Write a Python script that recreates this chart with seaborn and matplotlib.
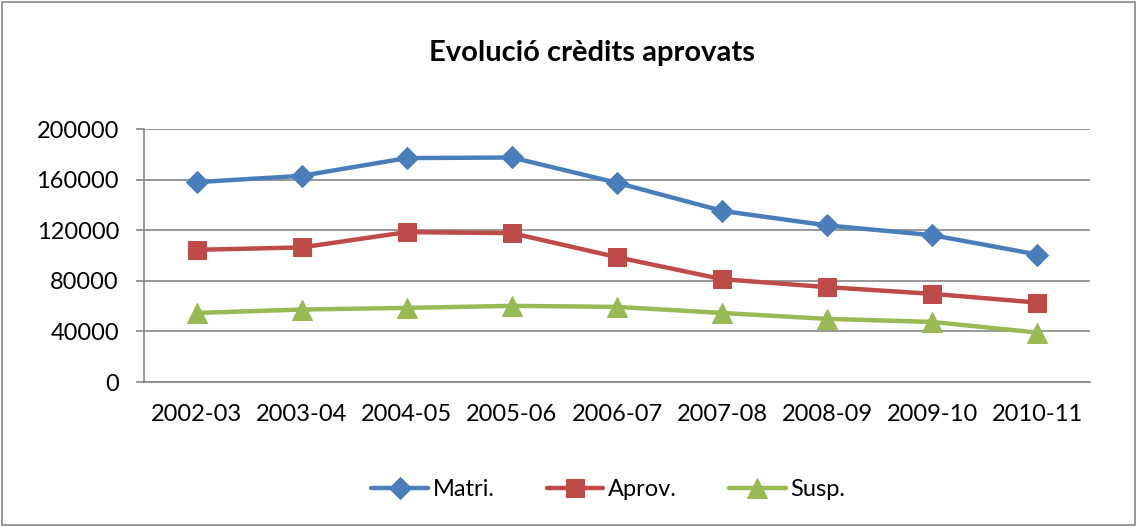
import pandas as pd
import matplotlib
matplotlib.use('Agg')
import matplotlib.pyplot as plt
import seaborn as sns
from matplotlib.patches import Rectangle
from matplotlib.ticker import FixedLocator

# Chart data
years = ['2002-03', '2003-04', '2004-05', '2005-06', '2006-07',
         '2007-08', '2008-09', '2009-10', '2010-11']
matri = [158000, 163000, 177000, 177500, 157500, 135300, 123800, 116100, 100800]
aprov = [104500, 106400, 118500, 117700, 98700, 81300, 75000, 69700, 62800]
susp = [54600, 57300, 58600, 60200, 59400, 54600, 49900, 47500, 39100]
series_names = ['Matri.', 'Aprov.', 'Susp.']

data = pd.DataFrame({
    'Curs': years * 3,
    'Valor': matri + aprov + susp,
    'Serie': [s for s in series_names for _ in years],
})

sns.set_style('white')
plt.rcParams['font.family'] = ['Lato', 'DejaVu Sans']
plt.rcParams['text.color'] = 'black'
plt.rcParams['xtick.labelcolor'] = 'black'
plt.rcParams['ytick.labelcolor'] = 'black'

colors = {'Matri.': '#4A7EBB', 'Aprov.': '#BE4B48', 'Susp.': '#98B954'}
markers = {'Matri.': 'D', 'Aprov.': 's', 'Susp.': '^'}
msizes = {'Matri.': 11, 'Aprov.': 13, 'Susp.': 14}

fig = plt.figure(figsize=(11.38, 5.27), dpi=100)
ax = fig.add_axes([0.1265, 0.2751, 0.8313, 0.4801])

for name in series_names:
    sub = data[data['Serie'] == name]
    sns.lineplot(data=sub, x='Curs', y='Valor', ax=ax, color=colors[name],
                 marker=markers[name], markersize=msizes[name],
                 markeredgecolor=colors[name], linewidth=3.2, label=name,
                 sort=False)

ax.set_xlim(-0.5, len(years) - 0.5)
ax.set_ylim(0, 200000)
ax.set_yticks(range(0, 200001, 40000))
ax.set_xticks(range(len(years)))
ax.set_xticklabels(years)
ax.xaxis.set_minor_locator(FixedLocator([i - 0.5 for i in range(len(years) + 1)]))
ax.tick_params(axis='x', which='major', length=0, pad=16, labelsize=17,
               labelcolor='black')
ax.tick_params(axis='x', which='minor', length=6, color='#868686', width=1.2)
ax.tick_params(axis='y', which='major', length=6, color='#868686', width=1.2,
               labelsize=17, pad=12, direction='out', left=True, labelcolor='black')
ax.yaxis.grid(True, color='#868686', linewidth=1.2)
ax.set_axisbelow(True)
for side in ['top', 'right']:
    ax.spines[side].set_visible(False)
for side in ['left', 'bottom']:
    ax.spines[side].set_color('#868686')
    ax.spines[side].set_linewidth(1.2)
ax.set_xlabel('')
ax.set_ylabel('')

fig.text(0.52, 0.899, 'Evolució crèdits aprovats', ha='center', va='center',
         fontsize=21, fontweight='bold', color='black')

ax.legend(loc='center', bbox_to_anchor=(0.491, -0.425), ncol=3, frameon=False,
          fontsize=17, handlelength=2.4, columnspacing=2.2, handletextpad=0.2,
          labelcolor='black')

fig.patches.append(Rectangle((0.002, 0.003), 0.995, 0.993, transform=fig.transFigure,
                             fill=False, edgecolor='#868686', linewidth=1.2))

fig.savefig('out.png', dpi=100)
